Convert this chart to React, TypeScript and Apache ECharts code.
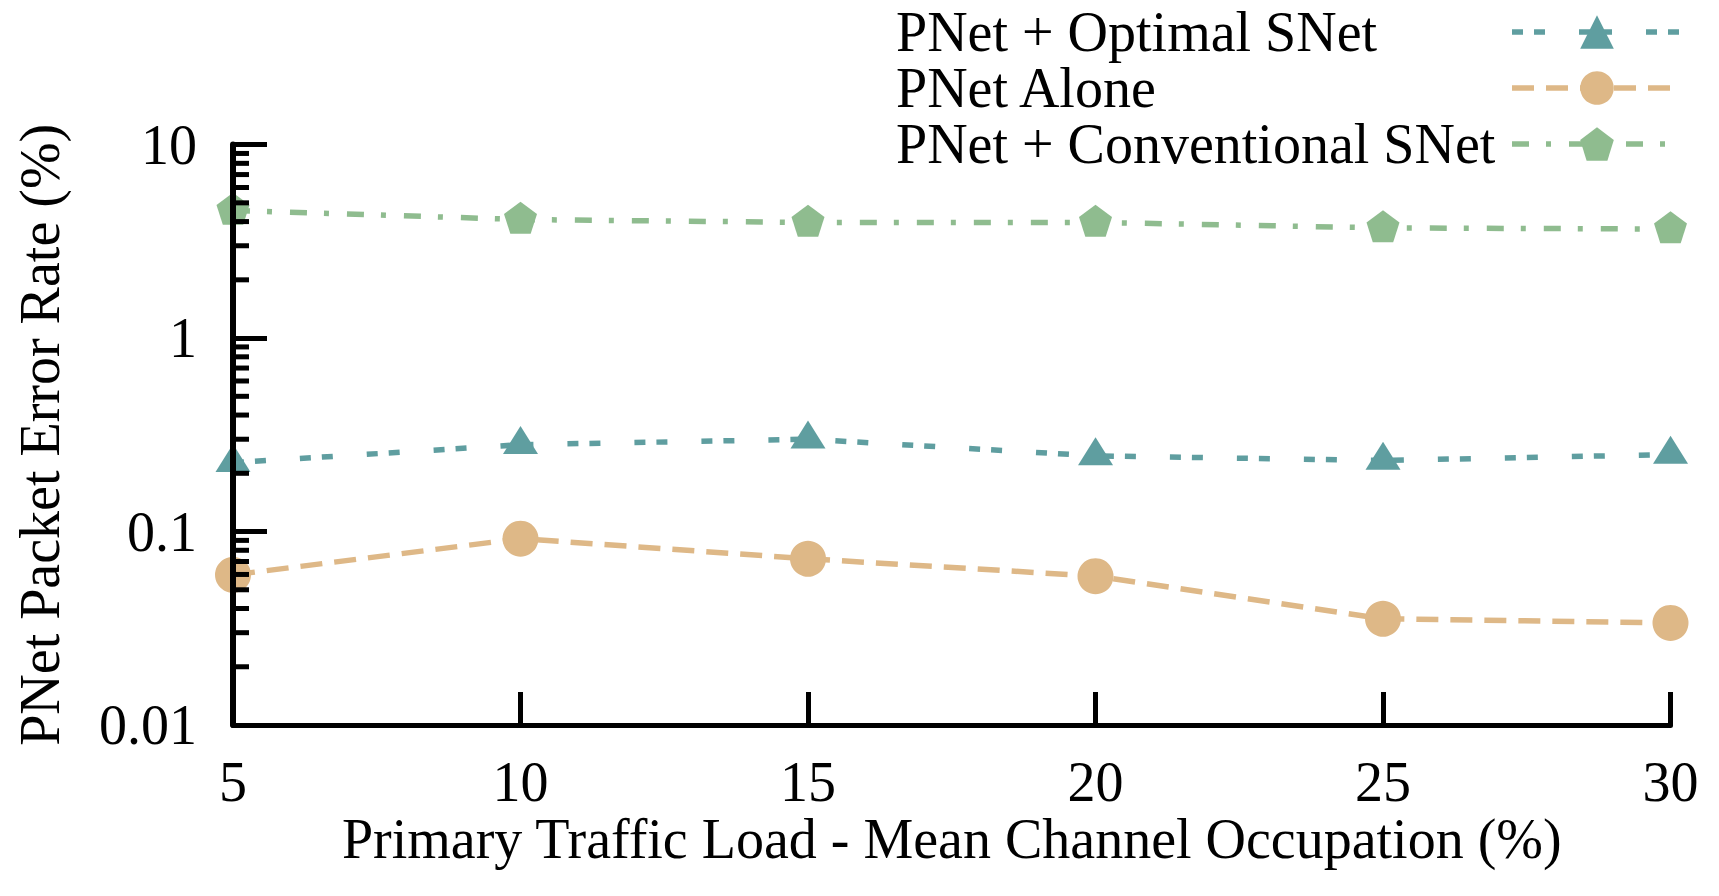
import React, { useEffect, useRef } from "react";
import * as echarts from "echarts";

const xValues = [5, 10, 15, 20, 25, 30];
const optimalSNet = [0.227, 0.281, 0.3, 0.246, 0.233, 0.25];
const pnetAlone = [0.0597, 0.0919, 0.0723, 0.0588, 0.0354, 0.0337];
const conventionalSNet = [4.57, 4.1, 3.96, 3.96, 3.71, 3.66];
const seriesNames = ["PNet + Optimal SNet", "PNet Alone", "PNet + Conventional SNet"];
const seriesColors = ["#5F9EA0", "#DEB887", "#8FBC8F"];
const yTickLabels: Record<string, string> = { "-2": "0.01", "-1": "0.1", "0": "1", "1": "10" };
const yMinorTicks = [
  0.02, 0.03, 0.04, 0.05, 0.06, 0.07, 0.08, 0.09,
  0.2, 0.3, 0.4, 0.5, 0.6, 0.7, 0.8, 0.9,
  2, 3, 4, 5, 6, 7, 8, 9,
];
const xTitle = "Primary Traffic Load - Mean Channel Occupation (%)";
const yTitle = "PNet Packet Error Rate (%)";

const FONT = "'Liberation Serif', 'Times New Roman', serif";
const PENTAGON = "path://M50 0L97.55 34.55L79.39 90.45L20.61 90.45L2.45 34.55Z";

function pairs(vals: number[]) {
  return xValues.map((x, i) => [x, vals[i]]);
}

export default function App() {
  const ref = useRef<HTMLDivElement>(null);
  useEffect(() => {
    const chart = echarts.init(ref.current!, null, { renderer: "svg" });
    const option: any = {
      animation: false,
      backgroundColor: "#ffffff",
      grid: { left: 233, right: 48.5, top: 144.6, bottom: 171, containLabel: false, outerBoundsMode: "none" },
      legend: {
        data: seriesNames,
        orient: "vertical",
        left: 896,
        top: 4,
        padding: 0,
        align: "right",
        itemWidth: 170,
        itemHeight: 42,
        itemGap: 0,
        lineStyle: { width: 5.5 },
        formatter: (name: string) => `{t|${name}}`,
        textStyle: {
          color: "#000",
          fontFamily: FONT,
          fontSize: 56,
          lineHeight: 56,
          rich: {
            t: { width: 611, align: "left", fontFamily: FONT, fontSize: 56, lineHeight: 56, color: "#000" },
          },
        },
      },
      xAxis: {
        type: "value",
        min: 5,
        max: 30,
        interval: 5,
        z: 5,
        name: xTitle,
        nameLocation: "middle",
        nameGap: 94,
        nameMoveOverlap: false,
        nameTextStyle: { color: "#000", fontFamily: FONT, fontSize: 56, lineHeight: 40 },
        axisLine: { onZero: false, lineStyle: { color: "#000", width: 5 } },
        axisTick: { inside: true, length: 33, lineStyle: { color: "#000", width: 5 } },
        axisLabel: { color: "#000", fontFamily: FONT, fontSize: 56, lineHeight: 40, margin: 37 },
        splitLine: { show: false },
      },
      yAxis: {
        type: "log",
        logBase: 10,
        min: 0.01,
        max: 10,
        z: 5,
        name: yTitle,
        nameLocation: "middle",
        nameGap: 165,
        nameRotate: 90,
        nameMoveOverlap: false,
        nameTextStyle: { color: "#000", fontFamily: FONT, fontSize: 56 },
        axisLine: { onZero: false, lineStyle: { color: "#000", width: 6 } },
        axisTick: { inside: true, length: 34, lineStyle: { color: "#000", width: 5 } },
        axisLabel: {
          color: "#000",
          fontFamily: FONT,
          fontSize: 56,
          margin: 36,
          formatter: (v: number) => yTickLabels[String(Math.round(Math.log10(v)))] ?? "",
        },
        splitLine: { show: false },
      },
      series: [
        {
          name: seriesNames[0],
          type: "line",
          data: pairs(optimalSNet),
          symbol: "triangle",
          symbolSize: [35, 28],
          symbolOffset: [0, -4.7],
          color: seriesColors[0],
          itemStyle: { color: seriesColors[0] },
          lineStyle: { color: seriesColors[0], width: 5.5, type: [11, 11, 11, 34] },
          z: 2,
        },
        {
          name: seriesNames[1],
          type: "line",
          data: pairs(pnetAlone),
          symbol: "circle",
          symbolSize: 36,
          color: seriesColors[1],
          itemStyle: { color: seriesColors[1] },
          lineStyle: { color: seriesColors[1], width: 5.5, type: [22, 12] },
          z: 2,
        },
        {
          name: seriesNames[2],
          type: "line",
          data: pairs(conventionalSNet),
          symbol: PENTAGON,
          symbolSize: [33, 32],
          symbolOffset: [0, -1.7],
          color: seriesColors[2],
          itemStyle: { color: seriesColors[2] },
          lineStyle: { color: seriesColors[2], width: 5.5, type: [17, 17, 5, 18] },
          z: 2,
        },
        {
          name: "minorTicks",
          type: "custom",
          silent: true,
          clip: false,
          z: 6,
          data: yMinorTicks.map((v) => [xValues[0], v]),
          renderItem: (params: any, api: any) => {
            const p = api.coord([api.value(0), api.value(1)]);
            return {
              type: "line",
              shape: { x1: p[0], y1: p[1], x2: p[0] + 16, y2: p[1] },
              style: { stroke: "#000", lineWidth: 5 },
            };
          },
        },
      ],
    };
    chart.setOption(option);
    return () => chart.dispose();
  }, []);
  return (
    <div
      ref={ref}
      style={{ position: "absolute", left: 0, top: 0, width: 1719, height: 896, background: "#fff" }}
    />
  );
}
